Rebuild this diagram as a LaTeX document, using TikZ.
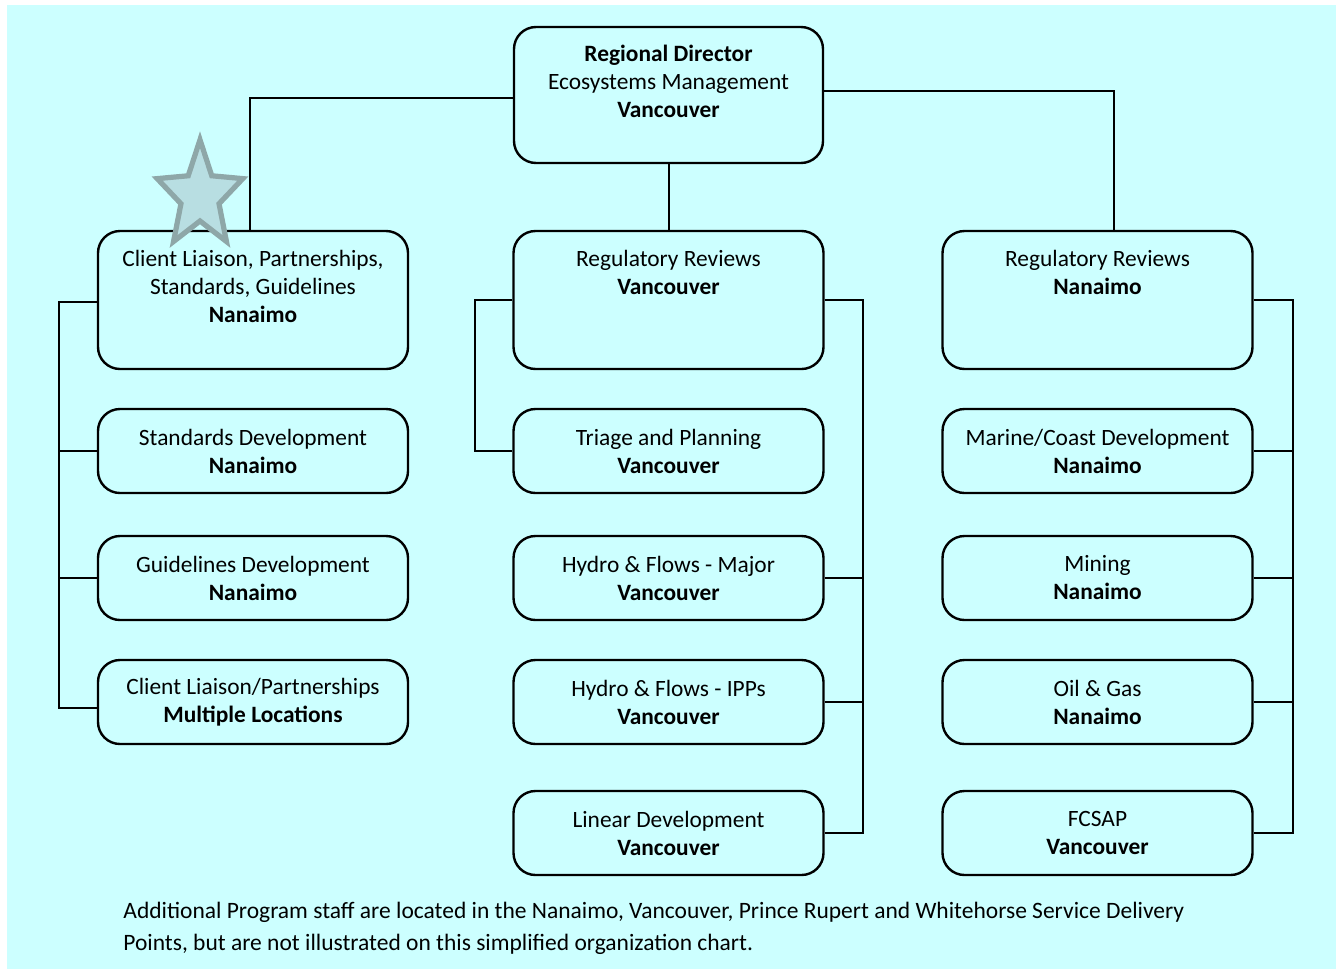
\documentclass[tikz,border=0pt]{standalone}
\usepackage{fontspec}
\setmainfont{Carlito}
\usepackage{xcolor}
\usepackage{tikz}
\usetikzlibrary{shapes.geometric}

\definecolor{chartbg}{RGB}{204,255,255}
\definecolor{starfill}{RGB}{184,222,226}
\definecolor{starline}{RGB}{142,167,168}

\begin{document}
\begin{tikzpicture}[x=0.5pt, y=-0.5pt,
    every node/.style={inner sep=0pt, align=center, font=\fontsize{11.7}{14}\selectfont},
    unit/.style={rectangle, rounded corners=11pt, draw=black, line width=1.2pt, fill=chartbg, minimum width=155pt, minimum height=42pt},
    bigunit/.style={unit, minimum height=69pt, text depth=-2pt},
    link/.style={line width=1pt}]
    \useasboundingbox (0,0) rectangle (1336,969);
    \fill[white] (0,0) rectangle (1336,969);
    \fill[chartbg] (7,5) rectangle (1336,969);

    \node[bigunit, minimum width=154.5pt, minimum height=68pt] (rd) at (668.5,95) {\textbf{Regional Director}\\ Ecosystems Management\\ \textbf{Vancouver}\\ \mbox{}};

    % left column
    \node[bigunit] (cl) at (253,300) {Client Liaison, Partnerships,\\ Standards, Guidelines\\ \textbf{Nanaimo}\\ \mbox{}};
    \node[unit] (sd) at (253,451) {Standards Development\\ \textbf{Nanaimo}};
    \node[unit] (gd) at (253,578) {Guidelines Development\\ \textbf{Nanaimo}};
    \node[unit] (cp) at (253,702) {Client Liaison/Partnerships\\ \textbf{Multiple Locations}};

    % middle column
    \node[bigunit] (rrv) at (668.5,300) {Regulatory Reviews\\ \textbf{Vancouver}\\ \mbox{}\\ \mbox{}};
    \node[unit] (tp) at (668.5,451) {Triage and Planning\\ \textbf{Vancouver}};
    \node[unit] (hfm) at (668.5,578) {Hydro \& Flows - Major\\ \textbf{Vancouver}};
    \node[unit] (hfi) at (668.5,702) {Hydro \& Flows - IPPs\\ \textbf{Vancouver}};
    \node[unit] (ld) at (668.5,833) {Linear Development\\ \textbf{Vancouver}};

    % right column
    \node[bigunit] (rrn) at (1097.5,300) {Regulatory Reviews\\ \textbf{Nanaimo}\\ \mbox{}\\ \mbox{}};
    \node[unit] (mc) at (1097.5,451) {Marine/Coast Development\\ \textbf{Nanaimo}};
    \node[unit] (mi) at (1097.5,578) {Mining\\ \textbf{Nanaimo}};
    \node[unit] (og) at (1097.5,702) {Oil \& Gas\\ \textbf{Nanaimo}};
    \node[unit] (fc) at (1097.5,833) {FCSAP\\ \textbf{Vancouver}};

    % bus lines
    \coordinate (lbus) at (59,0);
    \coordinate (mbusl) at (475,0);
    \coordinate (mbusr) at (863,0);
    \coordinate (rbus) at (1293,0);

    \draw[link] ([yshift=-1.5pt]rd.west) -| ([xshift=-1.5pt]cl.north);
    \draw[link] ([yshift=2pt]rd.east) -| ([xshift=8pt]rrn.north);
    \draw[link] (rd.south) -- (rrv.north);

    \draw[link] ([yshift=-1pt]cl.west) -- ([yshift=-1pt]cl.west -| lbus) -- ([yshift=-3pt]cp.west -| lbus) -- ([yshift=-3pt]cp.west);
    \foreach \n in {sd,gd}
        \draw[link] (\n.west) -- (\n.west -| lbus);

    \draw[link] (rrv.west) -- (rrv.west -| mbusl) -- (tp.west -| mbusl) -- (tp.west);
    \draw[link] (rrv.east) -- (rrv.east -| mbusr) -- (ld.east -| mbusr) -- (ld.east);
    \foreach \n in {hfm,hfi}
        \draw[link] (\n.east) -- (\n.east -| mbusr);

    \draw[link] (rrn.east) -- (rrn.east -| rbus) -- (fc.east -| rbus) -- (fc.east);
    \foreach \n in {mc,mi,og}
        \draw[link] (\n.east) -- (\n.east -| rbus);

    \begin{scope}[shift={(200,196)}, yscale=1.25, transform shape]
        \node[star, star points=5, star point ratio=2.25, minimum size=45pt, draw=starline, fill=starfill, line width=2.6pt] (mark) at (0,0) {};
    \end{scope}

    \node[anchor=north west, align=left, font=\fontsize{11.75}{16}\selectfont] (note) at (123,902) {Additional Program staff are located in the Nanaimo, Vancouver, Prince Rupert and Whitehorse Service Delivery\\ Points, but are not illustrated on this simplified organization chart.};
\end{tikzpicture}
\end{document}
